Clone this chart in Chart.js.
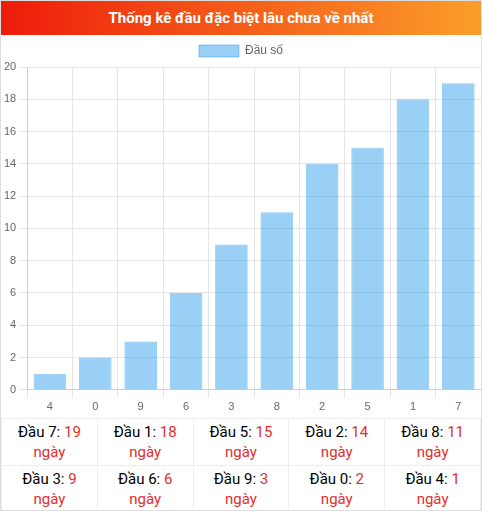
<!DOCTYPE html>
<html><head><meta charset="utf-8">
<script src="https://cdn.jsdelivr.net/npm/chart.js@4"></script>
<style>
body{margin:0;font-family:Roboto,sans-serif;background:#fff;}
#wrap{width:480px;height:509px;border:1px solid #ddd;position:relative;overflow:hidden}
#hdr{height:34px;background:linear-gradient(to right,#ee1c0a,#fb9e2a);color:#fff;font-weight:bold;font-size:15px;text-align:center;line-height:34px}
#cv{position:absolute;left:0;top:34px;width:480px;height:382px}
table{position:absolute;left:0;top:417px;width:480px;border-collapse:collapse;font-size:15px}
td{border:1px solid #eee;text-align:center;height:44px;width:20%;line-height:20px;color:#000}
.r{color:#e52d2d}
</style></head><body>
<div id="wrap"><div id="hdr">Thống kê đầu đặc biệt lâu chưa về nhất</div>
<div id="cv"><canvas id="c"></canvas></div>
<table id="t"></table></div>
<script>
const categories=["4","0","9","6","3","8","2","5","1","7"];
const values=[1,2,3,6,9,11,14,15,18,19];
const tableHeads=[7,1,5,2,8,3,6,9,0,4];
const tableDays=[19,18,15,14,11,9,6,3,2,1];
let h="";
for(let r=0;r<2;r++){h+="<tr>";for(let c=0;c<5;c++){const i=r*5+c;h+=`<td>Đầu ${tableHeads[i]}: <span class="r">${tableDays[i]}</span><br><span class="r">ngày</span></td>`;}h+="</tr>";}
document.getElementById('t').innerHTML=h;
new Chart(document.getElementById('c'),{type:'bar',data:{labels:categories,datasets:[{label:'Đầu số',data:values,backgroundColor:'rgba(54,162,235,0.5)',borderColor:'rgba(54,162,235,0.5)',borderWidth:1}]},
options:{responsive:true,maintainAspectRatio:false,animation:false,layout:{padding:{right:0,bottom:0}},
plugins:{legend:{labels:{color:'#666',font:{size:12},boxWidth:40,boxHeight:12}}},
scales:{y:{min:0,max:20,ticks:{stepSize:2,color:'#666',font:{size:11}},grid:{color:'#e5e5e5'}},x:{ticks:{color:'#666',font:{size:11}},grid:{color:'#e5e5e5'}}}}});
</script></body></html>
